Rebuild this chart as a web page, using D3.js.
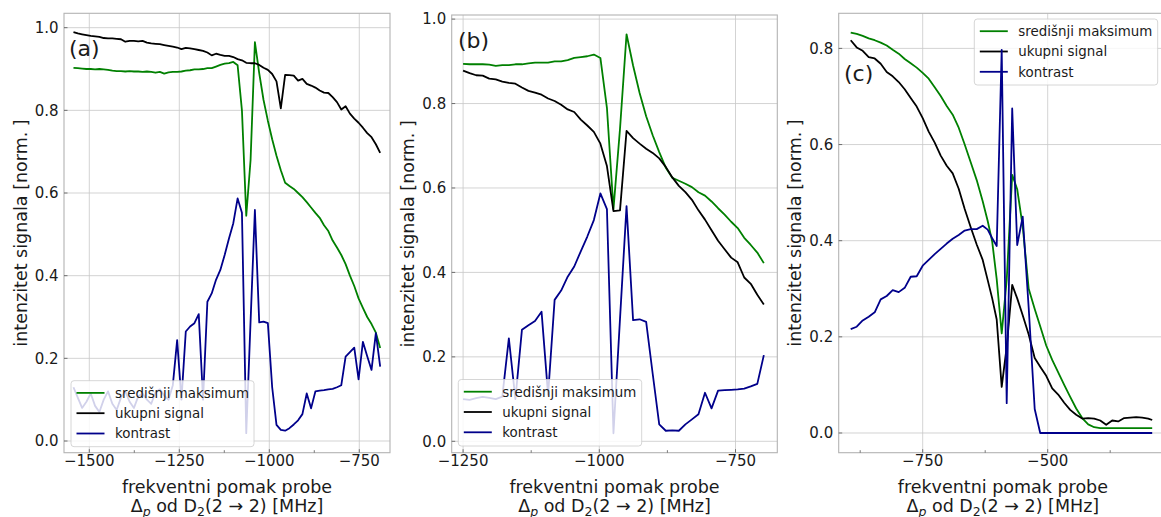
<!DOCTYPE html>
<html><head><meta charset="utf-8">
<script src="https://cdn.jsdelivr.net/npm/d3@7"></script>
<style>body{margin:0;background:#fff} svg{display:block} text{font-family:"DejaVu Sans",sans-serif;fill:#1a1a1a}</style>
</head><body><svg id="chart" width="1161" height="517"></svg>
<script>
// ---------- data ----------
const seriesNames = ["središnji maksimum", "ukupni signal", "kontrast"];

const freqA = [-1544,-1532,-1520,-1508,-1496,-1484,-1472,-1460,-1448,-1436,-1424,-1412,-1400,-1388,-1376,-1364,-1352,-1340,-1328,-1316,-1304,-1292,-1280,-1268,-1256,-1244,-1232,-1220,-1208,-1196,-1184,-1172,-1160,-1148,-1136,-1124,-1112,-1100,-1088,-1076,-1064,-1052,-1040,-1028,-1016,-1004,-992,-980,-968,-956,-944,-932,-920,-908,-896,-884,-872,-860,-848,-836,-824,-812,-800,-788,-776,-764,-752,-740,-728,-716,-704,-692];
const greenA = [0.903,0.902,0.901,0.900,0.900,0.899,0.900,0.899,0.898,0.896,0.895,0.895,0.894,0.895,0.894,0.894,0.893,0.894,0.893,0.891,0.893,0.889,0.892,0.893,0.893,0.894,0.896,0.897,0.899,0.899,0.900,0.902,0.902,0.906,0.910,0.913,0.914,0.917,0.909,0.800,0.545,0.680,0.965,0.890,0.825,0.775,0.730,0.690,0.655,0.625,0.617,0.610,0.600,0.590,0.578,0.565,0.552,0.540,0.522,0.508,0.485,0.468,0.450,0.428,0.400,0.375,0.345,0.322,0.300,0.283,0.262,0.225];
const blackA = [0.989,0.986,0.984,0.982,0.980,0.979,0.978,0.975,0.974,0.974,0.973,0.972,0.966,0.968,0.968,0.967,0.968,0.964,0.962,0.961,0.960,0.958,0.956,0.954,0.952,0.948,0.951,0.950,0.948,0.946,0.944,0.940,0.933,0.937,0.934,0.932,0.932,0.929,0.924,0.921,0.915,0.914,0.914,0.910,0.903,0.898,0.888,0.870,0.805,0.886,0.885,0.884,0.872,0.876,0.864,0.860,0.855,0.848,0.843,0.842,0.832,0.820,0.802,0.810,0.792,0.780,0.770,0.758,0.745,0.735,0.718,0.697];
const blueA = [0.130,0.105,0.080,0.095,0.115,0.085,0.070,0.100,0.120,0.090,0.075,0.105,0.120,0.095,0.080,0.108,0.115,0.100,0.090,0.118,0.125,0.110,0.100,0.135,0.244,0.100,0.265,0.277,0.285,0.307,0.100,0.337,0.357,0.390,0.414,0.450,0.490,0.527,0.587,0.552,0.019,0.290,0.559,0.287,0.289,0.285,0.130,0.039,0.027,0.025,0.031,0.040,0.050,0.065,0.115,0.079,0.120,0.122,0.123,0.125,0.126,0.130,0.135,0.204,0.215,0.226,0.149,0.240,0.205,0.172,0.261,0.180];

const freqB = [-1250,-1238,-1226,-1214,-1202,-1190,-1178,-1166,-1154,-1142,-1130,-1118,-1106,-1094,-1082,-1070,-1058,-1046,-1034,-1022,-1010,-998,-986,-974,-962,-950,-938,-926,-914,-902,-890,-878,-866,-854,-842,-830,-818,-806,-794,-782,-770,-758,-746,-734,-722,-710,-698];
const greenB = [0.894,0.893,0.893,0.893,0.892,0.889,0.891,0.891,0.893,0.893,0.895,0.897,0.897,0.897,0.900,0.900,0.903,0.908,0.910,0.912,0.916,0.908,0.790,0.550,0.740,0.964,0.890,0.825,0.770,0.725,0.685,0.648,0.624,0.617,0.610,0.602,0.590,0.582,0.568,0.552,0.537,0.520,0.505,0.482,0.465,0.447,0.422];
const blackB = [0.878,0.872,0.867,0.866,0.859,0.857,0.852,0.849,0.847,0.838,0.830,0.826,0.821,0.812,0.806,0.797,0.786,0.780,0.762,0.748,0.733,0.705,0.652,0.545,0.547,0.735,0.718,0.705,0.693,0.683,0.670,0.650,0.625,0.605,0.590,0.572,0.547,0.525,0.500,0.475,0.455,0.435,0.424,0.388,0.373,0.347,0.324];
const blueB = [0.100,0.098,0.102,0.105,0.103,0.100,0.106,0.244,0.100,0.264,0.275,0.285,0.307,0.110,0.335,0.357,0.390,0.414,0.450,0.485,0.524,0.587,0.550,0.019,0.290,0.557,0.287,0.289,0.283,0.160,0.040,0.025,0.026,0.025,0.040,0.052,0.064,0.115,0.078,0.120,0.121,0.122,0.123,0.125,0.130,0.136,0.204];

const freqC = [-894,-882,-870,-858,-846,-834,-822,-810,-798,-786,-774,-762,-750,-738,-726,-714,-702,-690,-678,-666,-654,-642,-630,-620,-611,-602,-592,-582,-571,-561,-550,-538,-526,-515,-503,-491,-479,-467,-455,-443,-431,-419,-407,-395,-383,-371,-359,-347,-335,-323,-311,-299,-291];
const greenC = [0.833,0.830,0.826,0.821,0.817,0.812,0.806,0.797,0.789,0.778,0.769,0.760,0.749,0.737,0.719,0.701,0.680,0.662,0.635,0.600,0.563,0.526,0.482,0.441,0.398,0.320,0.207,0.318,0.537,0.507,0.430,0.300,0.258,0.222,0.182,0.152,0.126,0.100,0.075,0.051,0.031,0.018,0.012,0.010,0.010,0.010,0.010,0.010,0.010,0.010,0.010,0.010,0.010];
const blackC = [0.817,0.802,0.795,0.782,0.779,0.768,0.751,0.742,0.730,0.715,0.697,0.679,0.655,0.627,0.604,0.577,0.556,0.540,0.508,0.466,0.428,0.392,0.360,0.318,0.280,0.236,0.096,0.179,0.308,0.280,0.245,0.205,0.156,0.138,0.119,0.093,0.080,0.063,0.048,0.038,0.030,0.031,0.030,0.026,0.017,0.026,0.024,0.031,0.032,0.033,0.032,0.030,0.027];
const blueC = [0.216,0.221,0.234,0.242,0.251,0.278,0.285,0.297,0.293,0.302,0.325,0.326,0.348,0.360,0.372,0.383,0.394,0.404,0.412,0.421,0.424,0.424,0.431,0.423,0.405,0.389,0.797,0.062,0.675,0.391,0.450,0.260,0.050,0.000,0,0,0,0,0,0,0,0,0,0,0,0,0,0,0,0,0,0,0];

const xTicksA = [-1500, -1250, -1000, -750];
const xMinorA = [-1375, -1125, -875];
const xTicksB = [-1250, -1000, -750];
const xMinorB = [-1125, -875];
const xTicksC = [-750, -500];
const xMinorC = [-875, -625, -375];
const yTicksAB = [0.0, 0.2, 0.4, 0.6, 0.8, 1.0];
const yTicksC = [0.0, 0.2, 0.4, 0.6, 0.8];
const panelLabels = ["(a)", "(b)", "(c)"];
const yLabel = "intenzitet signala [norm. ]";
const xLabel1 = "frekventni pomak probe";

// ---------- layout ----------
const colors = ["#008000", "#000000", "#00008b"];
const panels = [
  {freq: freqA, ys: [greenA, blackA, blueA], xt: xTicksA, xm: xMinorA, yt: yTicksAB,
   box: {l: 64, r: 390, t: 13.3, b: 452.7}, xd: [-1570.3, -664.7], yd: [-0.0283, 1.0348],
   leg: {x: 71, y: 380.7, w: 183, h: 66}, lab: [69, 55.5], linesOnTop: false},
  {freq: freqB, ys: [greenB, blackB, blueB], xt: xTicksB, xm: xMinorB, yt: yTicksAB,
   box: {l: 451.7, r: 777.3, t: 15, b: 452.7}, xd: [-1270.9, -673.3], yd: [-0.027, 1.0097],
   leg: {x: 458.3, y: 379.5, w: 183.4, h: 66.5}, lab: [458, 48], linesOnTop: false},
  {freq: freqC, ys: [greenC, blackC, blueC], xt: xTicksC, xm: xMinorC, yt: yTicksC,
   box: {l: 838.7, r: 1167, t: 13.3, b: 452.7}, xd: [-918, -261.4], yd: [-0.041, 0.873],
   leg: {x: 974.3, y: 19, w: 183.4, h: 66}, lab: [844, 80.5], linesOnTop: true}
];

const svg = d3.select("#chart");
const fmtY = d3.format(".1f");
const fmtX = d => (d < 0 ? "\u2212" : "") + Math.abs(d);

panels.forEach((p, pi) => {
  const b = p.box;
  const x = d3.scaleLinear().domain(p.xd).range([b.l, b.r]);
  const y = d3.scaleLinear().domain(p.yd).range([b.b, b.t]);
  const g = svg.append("g");
  const clipId = "clip" + pi;
  g.append("clipPath").attr("id", clipId).append("rect")
    .attr("x", b.l).attr("y", b.t).attr("width", b.r - b.l).attr("height", b.b - b.t);

  // grid
  const grid = g.append("g").attr("stroke", "#c8c8c8").attr("stroke-width", 0.8);
  p.xt.forEach(t => grid.append("line").attr("x1", x(t)).attr("x2", x(t)).attr("y1", b.t).attr("y2", b.b));
  p.yt.forEach(t => grid.append("line").attr("x1", b.l).attr("x2", b.r).attr("y1", y(t)).attr("y2", y(t)));

  const line = d3.line().x(d => x(d[0])).y(d => y(d[1]));
  const drawLines = () => {
    const lg = g.append("g").attr("clip-path", `url(#${clipId})`);
    p.ys.forEach((vals, si) => {
      const pts = p.freq.map((f, i) => [f, vals[i]]);
      lg.append("path").datum(pts).attr("d", line).attr("fill", "none")
        .attr("stroke", colors[si]).attr("stroke-width", 1.8).attr("stroke-linejoin", "round");
    });
  };
  const drawLegend = () => {
    const L = p.leg;
    const lgd = g.append("g");
    lgd.append("rect").attr("x", L.x).attr("y", L.y).attr("width", L.w).attr("height", L.h)
      .attr("rx", 3).attr("fill", "#fff").attr("fill-opacity", 0.82).attr("stroke", "#cccccc").attr("stroke-width", 0.8);
    seriesNames.forEach((name, si) => {
      const yy = L.y + 12.2 + si * 20.3;
      lgd.append("line").attr("x1", L.x + 5.5).attr("x2", L.x + 33.5).attr("y1", yy).attr("y2", yy)
        .attr("stroke", colors[si]).attr("stroke-width", 1.8);
      lgd.append("text").attr("x", L.x + 44).attr("y", yy).attr("dy", "0.36em")
        .attr("font-size", 13.4).text(name);
    });
  };
  if (p.linesOnTop) { drawLegend(); drawLines(); } else { drawLines(); drawLegend(); }

  // spines
  g.append("rect").attr("x", b.l).attr("y", b.t).attr("width", b.r - b.l).attr("height", b.b - b.t)
    .attr("fill", "none").attr("stroke", "#b3b3b3").attr("stroke-width", 1.1);

  // ticks (inward)
  const tk = g.append("g").attr("stroke", "#555").attr("stroke-width", 0.8);
  p.xt.forEach(t => tk.append("line").attr("x1", x(t)).attr("x2", x(t)).attr("y1", b.b).attr("y2", b.b - 3.5));
  p.xm.forEach(t => tk.append("line").attr("x1", x(t)).attr("x2", x(t)).attr("y1", b.b).attr("y2", b.b - 2.5));
  p.yt.forEach(t => tk.append("line").attr("x1", b.l).attr("x2", b.l + 3.5).attr("y1", y(t)).attr("y2", y(t)));

  // tick labels
  p.xt.forEach(t => g.append("text").attr("x", x(t)).attr("y", 466).attr("text-anchor", "middle")
    .attr("font-size", 15).text(fmtX(t)));
  p.yt.forEach(t => g.append("text").attr("x", b.l - 5.5).attr("y", y(t)).attr("dy", "0.36em")
    .attr("text-anchor", "end").attr("font-size", 15).text(fmtY(t)));

  // axis labels
  const cx = (b.l + b.r) / 2;
  g.append("text").attr("x", cx).attr("y", 492.5).attr("text-anchor", "middle").attr("font-size", 17.5).text(xLabel1);
  const t2 = g.append("text").attr("x", cx).attr("y", 512).attr("text-anchor", "middle").attr("font-size", 17.5);
  t2.append("tspan").text("\u0394");
  t2.append("tspan").attr("font-style", "italic").attr("font-size", 12.5).attr("dy", 3.5).text("p");
  t2.append("tspan").attr("dy", -3.5).text(" od D");
  t2.append("tspan").attr("font-size", 12.5).attr("dy", 3.5).text("2");
  t2.append("tspan").attr("dy", -3.5).text("(2 \u2192 2) [MHz]");

  const cy = (b.t + b.b) / 2;
  g.append("text").attr("transform", `translate(${b.l - 37.5},${cy}) rotate(-90)`)
    .attr("text-anchor", "middle").attr("font-size", 17.5).text(yLabel);

  // panel label
  g.append("text").attr("x", p.lab[0]).attr("y", p.lab[1]).attr("font-size", 22).text(panelLabels[pi]);
});
</script>
</body></html>
